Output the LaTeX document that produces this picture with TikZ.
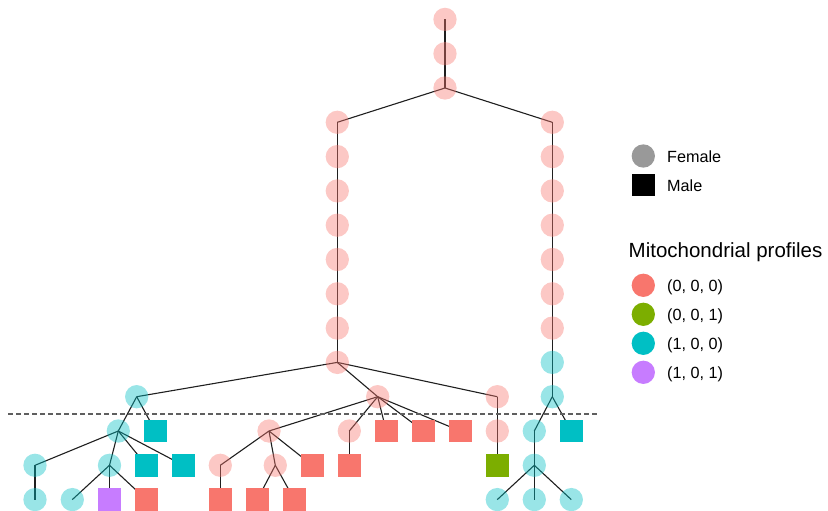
\documentclass[tikz,border=0pt]{standalone}
\usepackage{fontspec}
\setmainfont{Liberation Sans}
\usetikzlibrary{backgrounds}
\definecolor{cR}{RGB}{248,118,109}
\definecolor{cG}{RGB}{124,174,0}
\definecolor{cC}{RGB}{0,191,196}
\definecolor{cP}{RGB}{199,124,255}
\definecolor{dashgray}{RGB}{95,95,95}
\definecolor{leggray}{RGB}{153,153,153}
\begin{document}
\begin{tikzpicture}[x=1pt,y=-1pt,
  fem/.style={circle, minimum size=23.3pt, inner sep=0pt, fill=#1, fill opacity=0.4},
  mal/.style={rectangle, minimum size=22.7pt, inner sep=0pt, fill=#1},
  legc/.style={circle, minimum size=23.3pt, inner sep=0pt, fill=#1},
  edge/.style={line width=1.1pt, draw=black!88},
  dashline/.style={line width=1.6pt, draw=dashgray, dash pattern=on 4.5pt off 3.5pt},
  legtxt/.style={anchor=base west, inner sep=0pt, font=\fontsize{16.2}{18}\selectfont},
  legtitle/.style={anchor=base west, inner sep=0pt, font=\fontsize{20.5}{23}\selectfont}]
\useasboundingbox (0,0) rectangle (828,511);
% levels
\def\LA{19.4}\def\LB{53.7}\def\LC{88}\def\LD{122.3}\def\LE{156.6}\def\LF{190.9}
\def\LG{225.2}\def\LH{259.5}\def\LI{293.8}\def\LJ{328.1}\def\LK{362.4}\def\LL{396.7}
\def\LM{431}\def\LN{465.3}\def\LO{499.6}
% top chain
\node[fem=cR] (t0) at (445,\LA) {};
\node[fem=cR] (t1) at (445,\LB) {};
\node[fem=cR] (t2) at (445,\LC) {};
% left chain
\node[fem=cR] (a3) at (337.3,\LD) {};
\node[fem=cR] (a4) at (337.3,\LE) {};
\node[fem=cR] (a5) at (337.3,\LF) {};
\node[fem=cR] (a6) at (337.3,\LG) {};
\node[fem=cR] (a7) at (337.3,\LH) {};
\node[fem=cR] (a8) at (337.3,\LI) {};
\node[fem=cR] (a9) at (337.3,\LJ) {};
\node[fem=cR] (a10) at (337.3,\LK) {};
% right chain
\node[fem=cR] (b3) at (552.3,\LD) {};
\node[fem=cR] (b4) at (552.3,\LE) {};
\node[fem=cR] (b5) at (552.3,\LF) {};
\node[fem=cR] (b6) at (552.3,\LG) {};
\node[fem=cR] (b7) at (552.3,\LH) {};
\node[fem=cR] (b8) at (552.3,\LI) {};
\node[fem=cR] (b9) at (552.3,\LJ) {};
\node[fem=cC] (b10) at (552.3,\LK) {};
\node[fem=cC] (b11) at (552.3,\LL) {};
% generation below a10
\node[fem=cC] (c1) at (136.7,\LL) {};
\node[fem=cR] (c2) at (377.7,\LL) {};
\node[fem=cR] (c3) at (497.3,\LL) {};
\node[fem=cC] (d1) at (118.3,\LM) {};
\node[mal=cC] (d2) at (155.3,\LM) {};
\node[fem=cR] (d3) at (269,\LM) {};
\node[fem=cR] (d4) at (349.3,\LM) {};
\node[mal=cR] (d5) at (386.3,\LM) {};
\node[mal=cR] (d6) at (423.3,\LM) {};
\node[mal=cR] (d7) at (460.3,\LM) {};
\node[fem=cR] (d8) at (497.3,\LM) {};
\node[fem=cC] (d9) at (534.3,\LM) {};
\node[mal=cC] (d10) at (571.3,\LM) {};
\node[fem=cC] (e1) at (35,\LN) {};
\node[fem=cC] (e2) at (109.5,\LN) {};
\node[mal=cC] (e3) at (146.3,\LN) {};
\node[mal=cC] (e4) at (183.3,\LN) {};
\node[fem=cR] (e5) at (220.3,\LN) {};
\node[fem=cR] (e6) at (275.3,\LN) {};
\node[mal=cR] (e7) at (312.3,\LN) {};
\node[mal=cR] (e8) at (349.3,\LN) {};
\node[mal=cG] (e9) at (497.3,\LN) {};
\node[fem=cC] (e10) at (534.3,\LN) {};
\node[fem=cC] (f1) at (35,\LO) {};
\node[fem=cC] (f2) at (72.3,\LO) {};
\node[mal=cP] (f3) at (109.5,\LO) {};
\node[mal=cR] (f4) at (146.3,\LO) {};
\node[mal=cR] (f5) at (220.3,\LO) {};
\node[mal=cR] (f6) at (257.3,\LO) {};
\node[mal=cR] (f7) at (294.3,\LO) {};
\node[fem=cC] (f8) at (497.3,\LO) {};
\node[fem=cC] (f9) at (534.3,\LO) {};
\node[fem=cC] (f10) at (571.3,\LO) {};
% edges under the symbols
\begin{scope}[on background layer]
\foreach \p/\c in {t0/t1,t1/t2,t2/a3,t2/b3,a3/a4,a4/a5,a5/a6,a6/a7,a7/a8,a8/a9,a9/a10,
  b3/b4,b4/b5,b5/b6,b6/b7,b7/b8,b8/b9,b9/b10,b10/b11,
  a10/c1,a10/c2,a10/c3,c1/d1,c1/d2,d1/e1,d1/e2,d1/e3,d1/e4,e1/f1,e2/f2,e2/f3,e2/f4,
  c2/d3,c2/d4,c2/d5,c2/d6,c2/d7,d3/e5,d3/e6,d3/e7,e5/f5,e6/f6,e6/f7,d4/e8,
  c3/d8,d8/e9,b11/d9,b11/d10,d9/e10,e10/f8,e10/f9,e10/f10}
  \draw[edge] (\p.center) -- (\c.center);
\end{scope}
% dashed line
\coordinate (dl) at (8,413.7);
\coordinate (dr) at (597,413.7);
\draw[dashline] (dl) -- (dr);
% legend
\node[legc=leggray] (lgF) at (643.3,156) {};
\node[legtxt] (lgFt) at (667,162.2) {Female};
\node[mal=black] (lgM) at (643.3,185) {};
\node[legtxt] (lgMt) at (667,191.1) {Male};
\node[legtitle] (lgT) at (628.5,257.6) {Mitochondrial profiles};
\node[legc=cR] (lg1) at (643.3,285.3) {};
\node[legtxt] (lg1t) at (667,291.2) {(0, 0, 0)};
\node[legc=cG] (lg2) at (643.3,314.3) {};
\node[legtxt] (lg2t) at (667,320.2) {(0, 0, 1)};
\node[legc=cC] (lg3) at (643.3,343.3) {};
\node[legtxt] (lg3t) at (667,349.2) {(1, 0, 0)};
\node[legc=cP] (lg4) at (643.3,372.3) {};
\node[legtxt] (lg4t) at (667,378.2) {(1, 0, 1)};
\end{tikzpicture}
\end{document}
